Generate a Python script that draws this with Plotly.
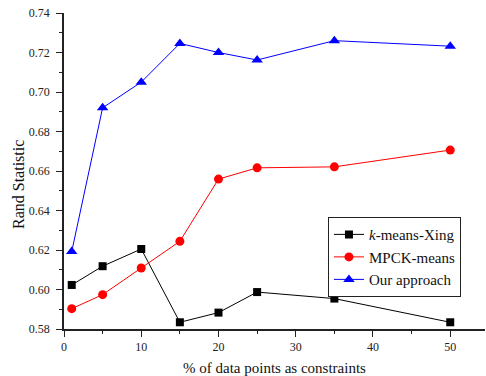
import plotly.graph_objects as go

x_vals = [1, 5, 10, 15, 20, 25, 35, 50]
kmeans_xing = [0.6023, 0.6118, 0.6205, 0.5834, 0.5883, 0.5987, 0.5954, 0.5834]
mpck_means = [0.5903, 0.5974, 0.6109, 0.6244, 0.6559, 0.6616, 0.6621, 0.6706]
our_approach = [0.6192, 0.6920, 0.7050, 0.7246, 0.7200, 0.7162, 0.7260, 0.7232]

series_names = ["<i>k</i>-means-Xing", "MPCK-means", "Our approach"]
x_title = "% of data points as constraints"
y_title = "Rand Statistic"

fig = go.Figure()
fig.add_trace(go.Scatter(x=x_vals, y=kmeans_xing, name=series_names[0], mode="lines+markers",
                         line=dict(color="black", width=1),
                         marker=dict(symbol="square", size=8, color="black")))
fig.add_trace(go.Scatter(x=x_vals, y=mpck_means, name=series_names[1], mode="lines+markers",
                         line=dict(color="red", width=1),
                         marker=dict(symbol="circle", size=9, color="red")))
fig.add_trace(go.Scatter(x=x_vals, y=our_approach, name=series_names[2], mode="lines+markers",
                         line=dict(color="blue", width=1),
                         marker=dict(symbol="triangle-up", size=10, color="blue")))

font_family = "Liberation Serif, Times New Roman, serif"
fig.update_layout(
    width=486, height=376,
    margin=dict(l=64, r=1, t=13, b=47),
    plot_bgcolor="white", paper_bgcolor="white",
    font=dict(family=font_family, size=12, color="#222"),
    legend=dict(x=0.627, y=0.354, xanchor="left", yanchor="top",
                bordercolor="#222", borderwidth=1, bgcolor="white",
                font=dict(size=15, color="#111"), tracegroupgap=0,
                itemwidth=30),
    showlegend=True,
    annotations=[
        dict(text=y_title, xref="paper", yref="paper", x=-64/421 + 18.5/421, y=(329-184.5)/316,
             textangle=-90, showarrow=False, xanchor="center", yanchor="middle",
             font=dict(size=16, color="#111")),
    ],
)
fig.update_xaxes(range=[0, 54.5], tickvals=[0, 10, 20, 30, 40, 50],
                 showline=True, linecolor="#222", linewidth=1.5, automargin=False,
                 ticks="outside", ticklen=6, tickcolor="#222", ticklabelstandoff=0,
                 minor=dict(dtick=5, tick0=0, ticks="outside", ticklen=3, tickcolor="#222", showgrid=False),
                 showgrid=False, zeroline=False,
                 title=dict(text=x_title, font=dict(size=15, color="#111"), standoff=12))
fig.update_yaxes(range=[0.58, 0.74], dtick=0.02, tick0=0.58, tickformat=".2f",
                 showline=True, linecolor="#222", linewidth=1.5, automargin=False,
                 ticks="outside", ticklen=6, tickcolor="#222", ticklabelstandoff=4,
                 minor=dict(dtick=0.01, tick0=0.58, ticks="outside", ticklen=3, tickcolor="#222", showgrid=False),
                 showgrid=False, zeroline=False)

fig.write_html("out.html", config={"displayModeBar": False},
               post_script="document.body.style.margin='0';")
